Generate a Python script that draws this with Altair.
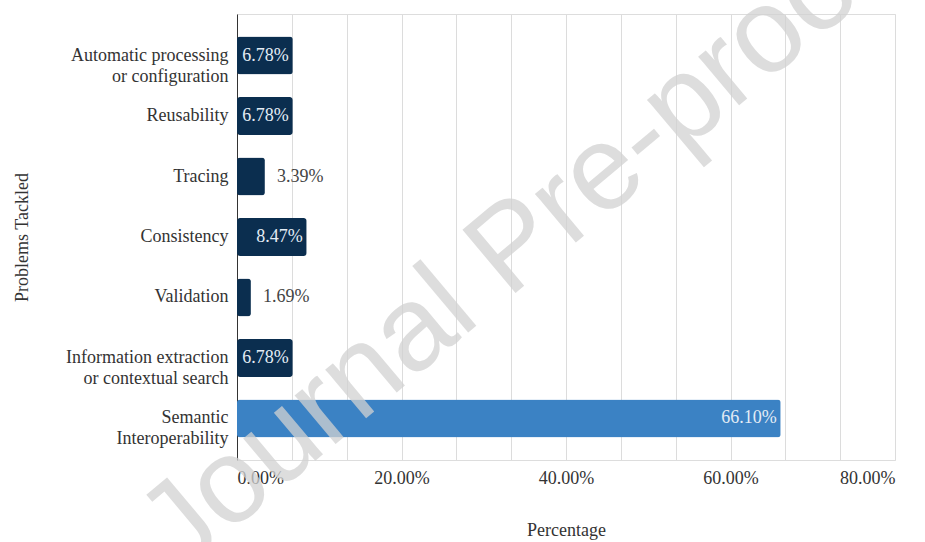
import altair as alt
import pandas as pd

# ---- data ----
categories = [
    "Automatic processing|or configuration",
    "Reusability",
    "Tracing",
    "Consistency",
    "Validation",
    "Information extraction|or contextual search",
    "Semantic|Interoperability",
]
values = [6.78, 6.78, 3.39, 8.47, 1.69, 6.78, 66.10]
groups = ["other", "other", "other", "other", "other", "other", "highlight"]
grid_values = [0, 6.6667, 13.3333, 20, 26.6667, 33.3333, 40, 46.6667,
               53.3333, 60, 66.6667, 73.3333, 80]

df = pd.DataFrame({"category": categories, "value": values, "group": groups})

FONT = "'Liberation Serif', 'Times New Roman', 'DejaVu Serif', serif"
TXT = "#333333"

y_enc = alt.Y(
    "category:N",
    sort=categories,
    scale=alt.Scale(paddingInner=0.372, paddingOuter=0.372),
    axis=alt.Axis(
        title="Problems Tackled",
        labelExpr="split(datum.label, '|')",
        labelFont=FONT, labelFontSize=18, labelColor=TXT, labelLineHeight=21,
        labelPadding=9, ticks=False, tickSize=0,
        domainColor="#333333", domainWidth=1,
        titleFont=FONT, titleFontSize=18, titleFontWeight="normal",
        titleColor=TXT, titlePadding=34, grid=False,
    ),
)

x_enc = alt.X(
    "value:Q",
    scale=alt.Scale(domain=[0, 80], nice=False),
    axis=alt.Axis(
        title="Percentage",
        values=grid_values,
        labelExpr="abs(datum.value/20 - round(datum.value/20)) < 0.01 ? format(datum.value, '.2f') + '%' : ''",
        labelFont=FONT, labelFontSize=18, labelColor=TXT, labelPadding=9,
        labelOverlap=False,
        ticks=False, tickSize=0, domain=False,
        grid=True, gridColor="#dcdcdc", gridWidth=1,
        titleFont=FONT, titleFontSize=18, titleFontWeight="normal",
        titleColor=TXT, titlePadding=34,
    ),
)

base = alt.Chart(df)

bars = base.mark_bar(cornerRadius=3).encode(
    x=x_enc,
    y=y_enc,
    color=alt.Color(
        "group:N",
        scale=alt.Scale(domain=["other", "highlight"], range=["#0b2e4f", "#3b82c4"]),
        legend=None,
    ),
)

labels_in = base.transform_filter("datum.value >= 5").transform_calculate(
    lab="format(datum.value, '.2f') + '%'"
).mark_text(align="right", baseline="middle", dx=-4, font=FONT, fontSize=18,
            color="#e3ecf5").encode(
    x="value:Q", y=alt.Y("category:N", sort=categories), text="lab:N"
)

labels_out = base.transform_filter("datum.value < 5").transform_calculate(
    lab="format(datum.value, '.2f') + '%'"
).mark_text(align="left", baseline="middle", dx=12, font=FONT, fontSize=18,
            color="#444444").encode(
    x="value:Q", y=alt.Y("category:N", sort=categories), text="lab:N"
)

watermark = alt.Chart(pd.DataFrame({"t": ["Journal Pre-proof"]})).mark_text(
    align="center", baseline="middle", angle=320, font="'Liberation Sans', Arial, sans-serif",
    fontSize=120, color="#d2d2d2", opacity=0.75,
).encode(
    x=alt.value(276), y=alt.value(234), text="t:N"
)

chart = alt.layer(bars, labels_in, labels_out, watermark).properties(
    width=658,
    height=446,
    autosize=alt.AutoSizeParams(type="none"),
    padding={"left": 237, "top": 14, "right": 30, "bottom": 82},
).configure_view(stroke=None).configure(background="white")

chart.save("out.html", embed_options={"renderer": "svg", "actions": False})
